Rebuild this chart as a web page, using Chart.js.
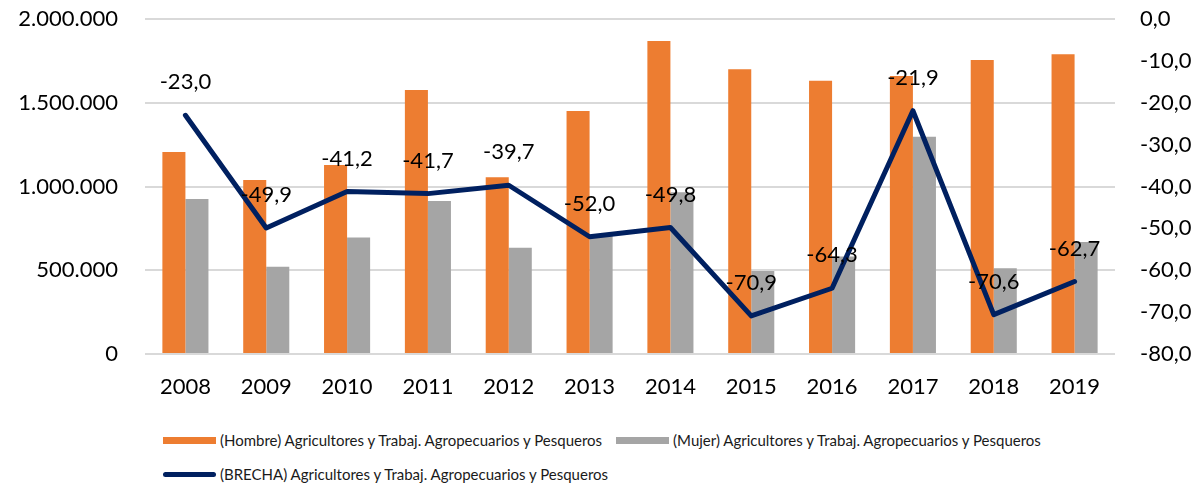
<!DOCTYPE html>
<html>
<head>
<meta charset="utf-8">
<script src="https://cdn.jsdelivr.net/npm/chart.js@4.4.1/dist/chart.umd.min.js"></script>
<style>
  html, body { margin: 0; padding: 0; background: #fff; }
  #wrap { position: relative; width: 1193px; height: 483px; overflow: hidden; }
  #chart { position: absolute; left: 0; top: 0; }
  .legend-row { position: absolute; left: 163px; display: flex; align-items: center; height: 20px;
    font-family: Lato, sans-serif; font-size: 15px; color: #1a1a1a; white-space: nowrap; }
  .legend-item { display: flex; align-items: center; margin-right: 14px; }
  .legend-mark { display: inline-block; width: 53px; margin-right: 4px; }
</style>
</head>
<body>
<div id="wrap">
  <canvas id="chart" width="1193" height="400"></canvas>
  <div class="legend-row" id="legendRow1" style="top:430px"></div>
  <div class="legend-row" id="legendRow2" style="top:464px"></div>
</div>
<script>
const years = ['2008', '2009', '2010', '2011', '2012', '2013', '2014', '2015', '2016', '2017', '2018', '2019'];
const hombre = [1206000, 1039000, 1128000, 1576000, 1055000, 1451000, 1869000, 1700000, 1632000, 1660000, 1755000, 1789000];
const mujer = [925000, 521000, 696000, 914000, 634000, 705000, 965000, 496000, 582000, 1297000, 512000, 668000];
const brecha = [-23.0, -49.9, -41.2, -41.7, -39.7, -52.0, -49.8, -70.9, -64.3, -21.9, -70.6, -62.7];

const labelHombre = '(Hombre) Agricultores y Trabaj. Agropecuarios y Pesqueros';
const labelMujer = '(Mujer) Agricultores y Trabaj. Agropecuarios y Pesqueros';
const labelBrecha = '(BRECHA) Agricultores y Trabaj. Agropecuarios y Pesqueros';

const tickFont = { family: 'Lato', size: 22 };

function thousands(v) {
    return String(v).replace(/\B(?=(\d{3})+(?!\d))/g, '.');
}
function comma1(v) {
    return Number(v).toFixed(1).replace('.', ',');
}

// etiquetas encima de cada punto de la línea
const lineLabels = {
    id: 'lineLabels',
    afterDatasetsDraw(chart) {
        const ctx = chart.ctx;
        chart.data.datasets.forEach((ds, i) => {
            if (ds.type !== 'line') return;
            const meta = chart.getDatasetMeta(i);
            ctx.save();
            ctx.font = '22px Lato';
            ctx.fillStyle = '#000';
            ctx.textAlign = 'center';
            ctx.textBaseline = 'middle';
            meta.data.forEach((pt, j) => {
                ctx.fillText(comma1(ds.data[j]), pt.x, pt.y - 33);
            });
            ctx.restore();
        });
    }
};

// ancho/alto fijos de los ejes para que el área de trazado coincida
function fixY(width) {
    return s => { s.width = width; s.paddingTop = 0; s.paddingBottom = 0; };
}

const chart = new Chart(document.getElementById('chart'), {
    data: {
        labels: years,
        datasets: [
            {
                type: 'line',
                label: labelBrecha,
                data: brecha,
                yAxisID: 'y1',
                borderColor: '#002060',
                backgroundColor: '#002060',
                borderWidth: 5,
                borderJoinStyle: 'round',
                borderCapStyle: 'round',
                pointRadius: 0,
                tension: 0,
                order: 0
            },
            {
                type: 'bar',
                label: labelHombre,
                data: hombre,
                yAxisID: 'y',
                backgroundColor: '#ED7D31',
                categoryPercentage: 0.57,
                barPercentage: 1.0,
                order: 1
            },
            {
                type: 'bar',
                label: labelMujer,
                data: mujer,
                yAxisID: 'y',
                backgroundColor: '#A5A5A5',
                categoryPercentage: 0.57,
                barPercentage: 1.0,
                order: 1
            }
        ]
    },
    options: {
        responsive: false,
        animation: false,
        layout: { padding: { top: 19, left: 0, right: 0, bottom: 0 }, autoPadding: false },
        plugins: {
            legend: { display: false },
            tooltip: { enabled: false }
        },
        scales: {
            x: {
                grid: { display: false, drawTicks: false },
                border: { display: false },
                ticks: { font: tickFont, color: '#000', padding: 20 },
                afterFit: s => { s.height = 46; s.paddingLeft = 0; s.paddingRight = 0; }
            },
            y: {
                position: 'left',
                min: 0,
                max: 2000000,
                grid: { color: '#d9d9d9', lineWidth: 2, drawTicks: false },
                border: { display: false },
                ticks: { stepSize: 500000, font: tickFont, color: '#000', padding: 27, callback: v => thousands(v) },
                afterFit: fixY(145)
            },
            y1: {
                position: 'right',
                min: -80,
                max: 0,
                grid: { drawOnChartArea: false, drawTicks: false },
                border: { display: false },
                ticks: { stepSize: 10, font: tickFont, color: '#000', padding: 25, callback: v => comma1(v) },
                afterFit: fixY(78)
            }
        }
    },
    plugins: [lineLabels]
});

// leyenda en HTML, dos filas como en el original
function legendItem(ds) {
    const item = document.createElement('span');
    item.className = 'legend-item';
    const mark = document.createElement('span');
    mark.className = 'legend-mark';
    if (ds.type === 'line') {
        mark.style.height = '5px';
        mark.style.borderRadius = '3px';
        mark.style.background = ds.borderColor;
    } else {
        mark.style.height = '7px';
        mark.style.background = ds.backgroundColor;
    }
    const txt = document.createElement('span');
    txt.textContent = ds.label;
    item.appendChild(mark);
    item.appendChild(txt);
    return item;
}
const dsets = chart.data.datasets;
document.getElementById('legendRow1').appendChild(legendItem(dsets[1]));
document.getElementById('legendRow1').appendChild(legendItem(dsets[2]));
document.getElementById('legendRow2').appendChild(legendItem(dsets[0]));
</script>
</body>
</html>
